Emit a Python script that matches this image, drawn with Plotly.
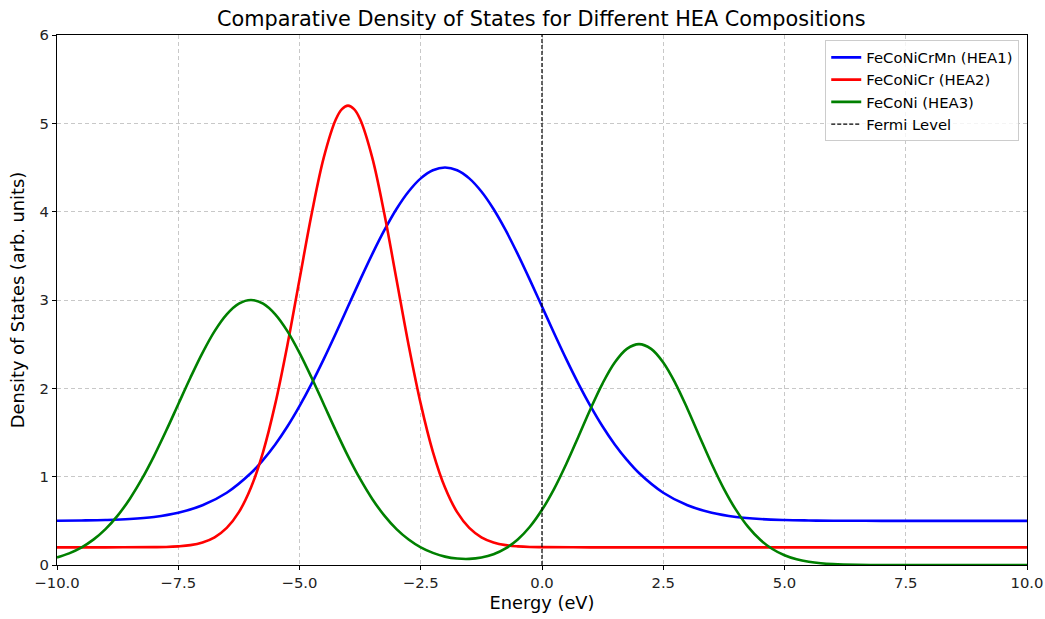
import plotly.graph_objects as go

# HEA1 (FeCoNiCrMn) values
x_hea1 = [-10, -9.5, -9, -8.5, -8, -7.5, -7, -6.5, -6, -5.75, -5.5, -5.25, -5, -4.75, -4.5, -4.25,
          -4, -3.75, -3.5, -3.25, -3, -2.75, -2.5, -2.25, -2, -1.75, -1.5, -1.25, -1, -0.75, -0.5,
          -0.25, 0, 0.25, 0.5, 0.75, 1, 1.25, 1.5, 1.75, 2, 2.5, 3, 3.5, 4, 4.5, 5, 5.5, 6, 7, 8, 9, 10]
y_hea1 = [0.501, 0.504, 0.509, 0.52, 0.544, 0.591, 0.676, 0.818, 1.041, 1.190, 1.365, 1.568, 1.799,
          2.054, 2.331, 2.624, 2.926, 3.228, 3.519, 3.790, 4.030, 4.228, 4.377, 4.469, 4.5, 4.469,
          4.377, 4.228, 4.030, 3.790, 3.519, 3.228, 2.926, 2.624, 2.331, 2.054, 1.799, 1.568, 1.365,
          1.190, 1.041, 0.818, 0.676, 0.591, 0.544, 0.52, 0.509, 0.504, 0.501, 0.5, 0.5, 0.5, 0.5]

# HEA2 (FeCoNiCr)
x_hea2 = [-10, -9, -8, -7.75, -7.5, -7.25, -7, -6.75, -6.5, -6.25, -6, -5.75, -5.5, -5.25, -5,
          -4.75, -4.5, -4.25, -4.125, -4, -3.875, -3.75, -3.5, -3.25, -3, -2.75, -2.5, -2.25, -2,
          -1.75, -1.5, -1.25, -1, -0.75, -0.5, -0.25, 0, 1, 2, 5, 10]
y_hea2 = [0.2, 0.2, 0.202, 0.204, 0.211, 0.225, 0.256, 0.314, 0.42, 0.598, 0.877, 1.282, 1.824,
          2.489, 3.233, 3.974, 4.612, 5.046, 5.161, 5.2, 5.161, 5.046, 4.612, 3.974, 3.233, 2.489,
          1.824, 1.282, 0.877, 0.598, 0.42, 0.314, 0.256, 0.225, 0.211, 0.204, 0.202, 0.2, 0.2,
          0.2, 0.2]

# HEA3 (FeCoNi)
x_hea3 = [-10, -9.75, -9.5, -9.25, -9, -8.75, -8.5, -8.25, -8, -7.75, -7.5, -7.25, -7, -6.75,
          -6.5, -6.25, -6, -5.75, -5.5, -5.25, -5, -4.75, -4.5, -4.25, -4, -3.75, -3.5, -3.25, -3,
          -2.75, -2.5, -2.25, -2, -1.75, -1.5, -1.25, -1, -0.75, -0.5, -0.25, 0, 0.25, 0.5, 0.75,
          1, 1.25, 1.5, 1.75, 2, 2.25, 2.5, 2.75, 3, 3.25, 3.5, 3.75, 4, 4.25, 4.5, 4.75, 5, 5.25,
          5.5, 5.75, 6, 6.5, 7, 8, 9, 10]
y_hea3 = [0.086, 0.132, 0.197, 0.287, 0.406, 0.559, 0.748, 0.974, 1.233, 1.519, 1.820, 2.120,
          2.402, 2.648, 2.838, 2.959, 3.0, 2.959, 2.838, 2.648, 2.402, 2.120, 1.820, 1.519, 1.233,
          0.974, 0.748, 0.559, 0.406, 0.288, 0.199, 0.137, 0.095, 0.073, 0.069, 0.084, 0.121,
          0.188, 0.289, 0.433, 0.625, 0.863, 1.144, 1.453, 1.767, 2.057, 2.292, 2.446, 2.5, 2.446,
          2.292, 2.057, 1.767, 1.453, 1.144, 0.863, 0.624, 0.431, 0.285, 0.181, 0.110, 0.064,
          0.036, 0.019, 0.010, 0.002, 0.0, 0.0, 0.0, 0.0]

fermi_x = [0, 0]
fermi_y = [0, 6]

fig = go.Figure()
fig.add_trace(go.Scatter(x=x_hea1, y=y_hea1, mode="lines", name="FeCoNiCrMn (HEA1)",
                         line=dict(color="blue", width=2.6, shape="spline", smoothing=1.0)))
fig.add_trace(go.Scatter(x=x_hea2, y=y_hea2, mode="lines", name="FeCoNiCr (HEA2)",
                         line=dict(color="red", width=2.6, shape="spline", smoothing=1.0)))
fig.add_trace(go.Scatter(x=x_hea3, y=y_hea3, mode="lines", name="FeCoNi (HEA3)",
                         line=dict(color="green", width=2.6, shape="spline", smoothing=1.0)))
fig.add_trace(go.Scatter(x=fermi_x, y=fermi_y, mode="lines", name="Fermi Level",
                         line=dict(color="black", width=1.2, dash="4px,2px")))

axis_common = dict(showline=True, linecolor="black", linewidth=1, mirror=True,
                   ticks="outside", ticklen=4, tickcolor="black", automargin=False,
                   showgrid=True, gridcolor="rgba(176,176,176,0.7)", griddash="4px,3px",
                   gridwidth=1, zeroline=False,
                   tickfont=dict(family="DejaVu Sans", size=14.8, color="#222"))

fig.update_layout(
    width=1045, height=619,
    paper_bgcolor="white", plot_bgcolor="white",
    margin=dict(l=57, r=18, t=35, b=54),
    title=dict(text="Comparative Density of States for Different HEA Compositions",
               x=0.518, xanchor="center", y=0.97, yanchor="middle",
               font=dict(family="DejaVu Sans", size=20.8, color="black")),
    font=dict(family="DejaVu Sans", color="black"),
    xaxis=dict(range=[-10, 10], tickvals=[-10, -7.5, -5, -2.5, 0, 2.5, 5, 7.5, 10],
               tickformat=".1f",
               title=dict(text="Energy (eV)", font=dict(size=17.8), standoff=6),
               **axis_common),
    yaxis=dict(range=[0, 6], tickvals=[0, 1, 2, 3, 4, 5, 6],
               title=dict(text="Density of States (arb. units)", font=dict(size=17.8), standoff=10),
               **axis_common),
    legend=dict(x=0.992, y=0.99, xanchor="right", yanchor="top",
                bgcolor="rgba(255,255,255,0.8)", bordercolor="#cccccc", borderwidth=1,
                font=dict(family="DejaVu Sans", size=14.8), tracegroupgap=0,
                itemwidth=30),
    showlegend=True,
)

fig.write_html("out.html")
